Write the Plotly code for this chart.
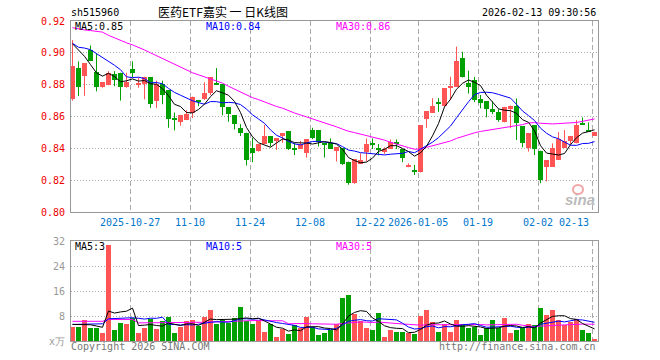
import plotly.graph_objects as go

# ---------------- data ----------------
opens = [0.8708, 0.8902, 0.8854, 0.9019, 0.8877, 0.8785, 0.8796, 0.8865, 0.8875, 0.8785,
         0.8896, 0.8802, 0.8806, 0.8846, 0.8698, 0.8804, 0.8765, 0.8582, 0.8567, 0.8581,
         0.8623, 0.8698, 0.8708, 0.8746, 0.8802, 0.8804, 0.8660, 0.8610, 0.8529, 0.8498,
         0.8404, 0.8385, 0.8427, 0.8477, 0.8452, 0.8477, 0.8508, 0.8398, 0.8396, 0.8369,
         0.8515, 0.8515, 0.8429, 0.8431, 0.8385, 0.8400, 0.8317, 0.8181, 0.8302, 0.8375,
         0.8429, 0.8398, 0.8375, 0.8396, 0.8442, 0.8396, 0.8281, 0.8256, 0.8254, 0.8583,
         0.8625, 0.8685, 0.8666, 0.8781, 0.8787, 0.8966, 0.8808, 0.8830, 0.8708, 0.8697,
         0.8645, 0.8630, 0.8567, 0.8645, 0.8666, 0.8540, 0.8400, 0.8546, 0.8385, 0.8285,
         0.8285, 0.8327, 0.8404, 0.8446, 0.8431, 0.8554, 0.8510, 0.8477]
highs = [0.9080, 0.8946, 0.8935, 0.9046, 0.8998, 0.8815, 0.8885, 0.8885, 0.8875, 0.8875,
         0.8946, 0.8846, 0.8850, 0.8846, 0.8825, 0.8825, 0.8765, 0.8625, 0.8610, 0.8640,
         0.8725, 0.8704, 0.8815, 0.8846, 0.8904, 0.8804, 0.8660, 0.8610, 0.8552, 0.8498,
         0.8467, 0.8427, 0.8546, 0.8477, 0.8465, 0.8494, 0.8508, 0.8435, 0.8446, 0.8456,
         0.8529, 0.8515, 0.8435, 0.8462, 0.8406, 0.8400, 0.8317, 0.8331, 0.8369, 0.8462,
         0.8462, 0.8427, 0.8406, 0.8456, 0.8456, 0.8396, 0.8306, 0.8296, 0.8546, 0.8633,
         0.8715, 0.8715, 0.8777, 0.8850, 0.9039, 0.9007, 0.8888, 0.8848, 0.8735, 0.8697,
         0.8696, 0.8645, 0.8661, 0.8669, 0.8714, 0.8540, 0.8494, 0.8546, 0.8385, 0.8327,
         0.8431, 0.8502, 0.8515, 0.8477, 0.8577, 0.8594, 0.8563, 0.8504]
lows = [0.8700, 0.8729, 0.8730, 0.8948, 0.8758, 0.8781, 0.8796, 0.8790, 0.8700, 0.8781,
        0.8846, 0.8781, 0.8708, 0.8654, 0.8654, 0.8677, 0.8529, 0.8513, 0.8542, 0.8577,
        0.8590, 0.8665, 0.8704, 0.8735, 0.8798, 0.8608, 0.8567, 0.8519, 0.8477, 0.8292,
        0.8313, 0.8379, 0.8427, 0.8412, 0.8390, 0.8435, 0.8390, 0.8358, 0.8396, 0.8342,
        0.8458, 0.8412, 0.8342, 0.8396, 0.8317, 0.8296, 0.8171, 0.8177, 0.8302, 0.8317,
        0.8396, 0.8356, 0.8365, 0.8396, 0.8396, 0.8313, 0.8281, 0.8233, 0.8248, 0.8529,
        0.8625, 0.8629, 0.8660, 0.8704, 0.8787, 0.8845, 0.8744, 0.8690, 0.8651, 0.8595,
        0.8615, 0.8567, 0.8563, 0.8526, 0.8452, 0.8406, 0.8379, 0.8358, 0.8181, 0.8192,
        0.8285, 0.8327, 0.8404, 0.8425, 0.8431, 0.8548, 0.8505, 0.8477]
closes = [0.8915, 0.8785, 0.8935, 0.8948, 0.8785, 0.8815, 0.8875, 0.8831, 0.8785, 0.8815,
          0.8875, 0.8806, 0.8850, 0.8679, 0.8804, 0.8735, 0.8585, 0.8579, 0.8610, 0.8615,
          0.8725, 0.8692, 0.8746, 0.8846, 0.8800, 0.8660, 0.8615, 0.8552, 0.8498, 0.8329,
          0.8369, 0.8427, 0.8477, 0.8433, 0.8462, 0.8494, 0.8396, 0.8394, 0.8427, 0.8456,
          0.8462, 0.8442, 0.8425, 0.8396, 0.8406, 0.8302, 0.8181, 0.8331, 0.8327, 0.8427,
          0.8425, 0.8394, 0.8396, 0.8442, 0.8427, 0.8337, 0.8296, 0.8252, 0.8546, 0.8633,
          0.8665, 0.8681, 0.8777, 0.8785, 0.8949, 0.8850, 0.8787, 0.8703, 0.8683, 0.8645,
          0.8630, 0.8578, 0.8661, 0.8669, 0.8560, 0.8432, 0.8494, 0.8396, 0.8202, 0.8327,
          0.8404, 0.8460, 0.8446, 0.8477, 0.8546, 0.8550, 0.8506, 0.8504]
volumes = [4.6, 4.6, 6.6, 4.1, 4.1, 2.5, 30.6, 3.4, 5.9, 5.3,
           7.4, 2.7, 4.1, 6.9, 3.7, 6.4, 7.6, 2.7, 4.4, 6.3,
           6.6, 4.9, 7.6, 9.8, 5.3, 6.6, 5.9, 7.3, 10.8, 6.3,
           5.3, 6.8, 3.0, 5.5, 1.4, 3.8, 2.1, 5.0, 4.2, 7.6,
           4.4, 1.8, 2.7, 3.5, 5.3, 13.8, 14.6, 8.5, 6.3, 4.1,
           3.4, 9.1, 1.4, 3.4, 3.0, 3.0, 2.5, 2.1, 7.9, 9.8,
           6.0, 3.0, 5.3, 3.0, 6.6, 5.6, 4.1, 4.4, 1.8, 4.1,
           6.6, 4.1, 7.3, 2.7, 3.4, 4.1, 5.6, 5.0, 10.6, 8.2,
           10.0, 6.6, 5.0, 6.0, 7.0, 3.4, 2.5, 0.5]

# moving-average values at the left edge (they depend on days before the window)
ma5_lead = [0.9057, 0.9020, 0.8978, 0.8926]
ma10_lead = [0.9060, 0.9035, 0.9030, 0.9020, 0.8995, 0.8972, 0.8947, 0.8922, 0.8894]
ma30_lead = [0.9158, 0.9150, 0.9144, 0.9140, 0.9136, 0.9130, 0.9110, 0.9093, 0.9078, 0.9063,
             0.9050, 0.9035, 0.9018, 0.9000, 0.8982, 0.8963, 0.8945, 0.8925, 0.8908, 0.8890,
             0.8875, 0.8862, 0.8848, 0.8837, 0.8825, 0.8810, 0.8790, 0.8771, 0.8752]
vma5_lead = [5.3, 5.3, 5.2, 5.2]
vma10_lead = [5.3, 5.3, 5.3, 5.3, 5.3, 5.5, 7.1, 7.2, 7.3]
vma30_lead = [6.3, 6.3, 6.3, 6.3, 6.3, 6.3, 6.9, 6.9, 6.9, 6.9,
              6.9, 5.8, 5.8, 5.8, 5.8, 5.8, 5.8, 5.8, 5.8, 5.8,
              5.8, 5.8, 6.0, 6.1, 6.1, 6.2, 6.2, 6.3, 6.4]

tick_index = [10, 20, 30, 40, 50, 58, 68, 78, 87]
tick_labels = ["2025-10-27", "11-10", "11-24", "12-08", "12-22", "2026-01-05",
               "01-19", "02-02", "02-13"]
price_ticks = [0.80, 0.82, 0.84, 0.86, 0.88, 0.90, 0.92]
vol_ticks = [0, 8, 16, 24, 32]
vol_ticktext = ["x万", "8", "16", "24", "32"]

code = "sh515960"
title = "医药ETF嘉实 一 日K线图"
stamp = "2026-02-13 09:30:56"

# ---------------- helpers ----------------
W, H = 660, 360
L, R, T, B = 71, 62, 21, 19
PW, PH = W - L - R, H - T - B


def px(x):
    return (x - L) / PW


def py(y):
    return (H - B - y) / PH


def moving_avg(vals, n, lead):
    out = []
    for i in range(len(vals)):
        if i >= n - 1:
            out.append(sum(vals[i - n + 1:i + 1]) / n)
        else:
            out.append(lead[i])
    return out


RED = "#ff5555"
GREEN = "#00a000"
MONO = "DejaVu Sans Mono"
n = len(closes)
idx = list(range(n))

ma5 = moving_avg(closes, 5, ma5_lead)
ma10 = moving_avg(closes, 10, ma10_lead)
ma30 = moving_avg(closes, 30, ma30_lead)
vma5 = moving_avg(volumes, 5, vma5_lead)
vma10 = moving_avg(volumes, 10, vma10_lead)
vma30 = moving_avg(volumes, 30, vma30_lead)

fig = go.Figure()

for color, up in ((RED, True), (GREEN, False)):
    sel = [i for i in idx if (closes[i] >= opens[i]) == up]
    wx, wy = [], []
    for i in sel:
        wx += [i, i, None]
        wy += [lows[i], highs[i], None]
    fig.add_trace(go.Scatter(x=wx, y=wy, mode="lines", line=dict(color=color, width=1),
                             xaxis="x", yaxis="y", hoverinfo="skip"))
    fig.add_trace(go.Bar(x=sel,
                         y=[max(abs(closes[i] - opens[i]), 0.0007) for i in sel],
                         base=[min(opens[i], closes[i]) for i in sel],
                         width=5 / 6, marker=dict(color=color, line=dict(width=0)),
                         xaxis="x", yaxis="y"))
    fig.add_trace(go.Bar(x=sel, y=[volumes[i] for i in sel], width=5 / 6,
                         marker=dict(color=color, line=dict(width=0)),
                         xaxis="x2", yaxis="y2"))

for vals, col, ya, xa in ((ma30, "#ff00ff", "y", "x"), (ma10, "#0000ff", "y", "x"),
                          (ma5, "#000000", "y", "x"), (vma30, "#ff00ff", "y2", "x2"),
                          (vma10, "#0000ff", "y2", "x2"), (vma5, "#000000", "y2", "x2")):
    fig.add_trace(go.Scatter(x=idx, y=vals, mode="lines", line=dict(color=col, width=1),
                             xaxis=xa, yaxis=ya, hoverinfo="skip"))

grid_x = [t - 0.37 for t in tick_index]
xcommon = dict(range=[-0.25, 87.58], showticklabels=False, ticks="",
               tickvals=grid_x, showgrid=True, gridcolor="#aaaaaa", griddash="5px,3px",
               gridwidth=1, zeroline=False, showline=True, linecolor="#999999",
               linewidth=1, mirror=True, fixedrange=True)

fig.update_layout(
    width=W, height=H,
    margin=dict(l=L, r=R, t=T, b=B, pad=0),
    paper_bgcolor="white", plot_bgcolor="white",
    showlegend=False, barmode="overlay", bargap=0,
    font=dict(family=MONO, size=10, color="#000"),
    xaxis=dict(domain=[0, 1], anchor="y", **xcommon),
    xaxis2=dict(domain=[0, 1], anchor="y2", matches="x", **xcommon),
    yaxis=dict(domain=[py(212), 1], range=[0.80, 0.92], tickvals=price_ticks,
               ticktext=["%.2f" % v for v in price_ticks],
               tickfont=dict(family=MONO, size=10, color="#ee0000"),
               ticks="outside", ticklen=3, tickcolor="rgba(0,0,0,0)",
               showgrid=True, gridcolor="#aaaaaa", griddash="1px,2px", zeroline=False,
               showline=True, linecolor="#999999", mirror=True, fixedrange=True),
    yaxis2=dict(domain=[0, py(241)], range=[0, 32], tickvals=vol_ticks,
                ticktext=vol_ticktext,
                tickfont=dict(family=MONO, size=10, color="#999999"),
                ticks="outside", ticklen=3, tickcolor="rgba(0,0,0,0)",
                showgrid=True, gridcolor="#aaaaaa", griddash="1px,2px", zeroline=False,
                showline=True, linecolor="#999999", mirror=True, fixedrange=True),
)

ann = []


def text(x, y, s, color="#000", size=10, anchor="left", family=MONO, **kw):
    ann.append(dict(x=px(x), y=py(y), xref="paper", yref="paper", text=s,
                    showarrow=False, xanchor=anchor, yanchor="middle",
                    font=dict(family=family, size=size, color=color, **kw)))


text(69, 12.5, code)
text(223, 11.5, title, size=12, anchor="center", family="Noto Sans CJK SC")
text(598, 12.5, stamp, anchor="right")

text(73, 26, "MA5:%.2f" % ma5[-1])
text(204, 26, "MA10:%.2f" % ma10[-1], color="#0000ff")
text(334, 26, "MA30:%.2f" % ma30[-1], color="#ff00ff")

text(73, 246.5, "MA5:%d" % int(vma5[-1]))
text(204, 246.5, "MA10:%d" % int(vma10[-1]), color="#0000ff")
text(334, 246.5, "MA30:%d" % int(vma30[-1]), color="#ff00ff")

for t, lab in zip(grid_x, tick_labels):
    xpix = L + (t + 0.25) * 6
    if lab == tick_labels[-1]:
        text(xpix - 1, 222, lab, color="#0077cc", anchor="right")
    else:
        text(xpix, 222, lab, color="#0077cc", anchor="center")

text(69, 346, "Copyright 2026 SINA.COM", color="#777777")
text(598, 346, "http://finance.sina.com.cn", color="#777777", anchor="right")

# sina watermark
text(580, 199, "sina", color="#bbbbbb", size=15, anchor="center",
     family="Liberation Sans", weight="bold", style="italic")
fig.update_layout(annotations=ann, shapes=[
    dict(type="circle", xref="paper", yref="paper", x0=px(573), x1=px(583),
         y0=py(194), y1=py(185), line=dict(color="#f2a6a6", width=2)),
])

fig.write_html("out.html")
